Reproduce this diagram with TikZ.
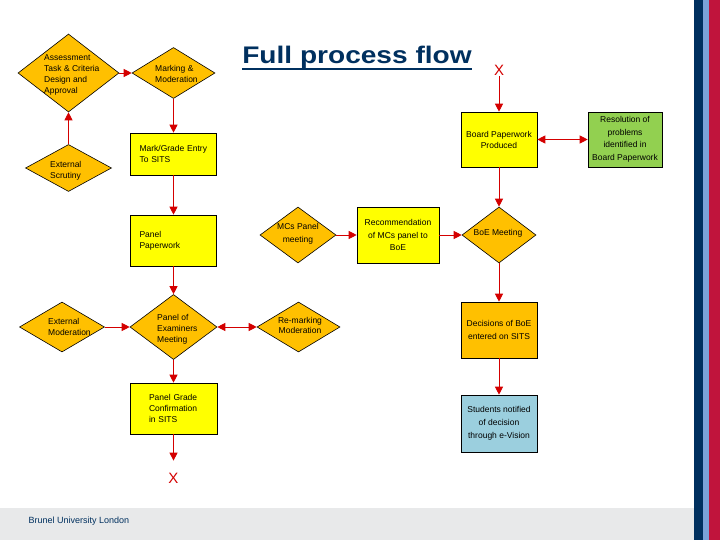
\documentclass[tikz,border=0pt]{standalone}
\usepackage{fontspec}
\setmainfont{Liberation Sans}
\usepackage{tikz}
\usetikzlibrary{shapes.geometric, arrows.meta}

\definecolor{decorange}{HTML}{FFC000}
\definecolor{boxyellow}{HTML}{FFFF00}
\definecolor{boxgreen}{HTML}{92D050}
\definecolor{boxblue}{HTML}{9BCFDE}
\definecolor{flowred}{HTML}{D40000}
\definecolor{brunelnavy}{HTML}{00305F}
\definecolor{brunelsky}{HTML}{7BA3D9}
\definecolor{brunelred}{HTML}{C0143C}
\definecolor{footgray}{HTML}{E8E9EA}

\begin{document}
\begin{tikzpicture}[x=1pt, y=-1pt,
  flow/.style={draw=flowred, line width=0.9pt, -{Triangle[length=8pt, width=8pt]}},
  twoway/.style={flow, {Triangle[length=8pt, width=8pt]}-{Triangle[length=8pt, width=8pt]}},
  decision/.style={diamond, draw=black, line width=0.6pt, fill=decorange, inner sep=0pt},
  procbox/.style={rectangle, draw=black, line width=0.6pt, fill=boxyellow, inner sep=0pt, font=\fontsize{8.5}{11}\selectfont},
  lefttext/.style={text width=#1, align=left, inner xsep=9pt},
  midtext/.style={align=center, font=\fontsize{8.5}{12.5}\selectfont},
  dtext/.style={inner sep=0pt, font=\fontsize{8.5}{11}\selectfont},
  endmark/.style={text=flowred, font=\fontsize{15}{15}\selectfont, inner sep=1pt}]
  \useasboundingbox (0,0) rectangle (720,540);
  \fill[white] (0,0) rectangle (720,540);

  % slide furniture
  \fill[footgray] (0,508) rectangle (694,540);
  \fill[brunelnavy] (694,0) rectangle (703,540);
  \fill[brunelsky] (703,0) rectangle (709,540);
  \fill[brunelred] (709,0) rectangle (720,540);
  \node[anchor=west, text=brunelnavy, font=\fontsize{9}{9}\selectfont] (brunel) at (25,521) {Brunel University London};

  \node[anchor=base, inner sep=0pt, text=brunelnavy, font=\fontsize{24}{24}\selectfont\bfseries] (title) at (357,64) {\scalebox{1.17}[1]{Full process flow}};
  \draw[brunelnavy, line width=2pt] ([yshift=-5pt]title.base west) -- ([yshift=-5pt]title.base east);

  % decisions (diamonds)
  \node[decision, minimum width=101pt, minimum height=78pt] (assess) at (68.5,73) {};
  \node[decision, minimum width=83pt, minimum height=51pt] (marking) at (173.5,73) {};
  \node[decision, minimum width=86pt, minimum height=47pt] (scrutiny) at (68.5,168) {};
  \node[decision, minimum width=76pt, minimum height=56pt] (mcs) at (298,235) {};
  \node[decision, minimum width=74pt, minimum height=56pt] (boe) at (499,235) {};
  \node[decision, minimum width=87pt, minimum height=65pt] (examiners) at (173.5,327) {};
  \node[decision, minimum width=85pt, minimum height=50pt] (extmod) at (62,327) {};
  \node[decision, minimum width=83pt, minimum height=50pt] (remark) at (298.5,327) {};

  \node[dtext, anchor=west, align=left] (assesstxt) at (44,74.5) {Assessment\\Task \& Criteria\\Design and\\Approval};
  \node[dtext, anchor=west, align=left] (marktxt) at (155,73.5) {Marking \&\\Moderation};
  \node[dtext, anchor=west, align=left] (scrutxt) at (50,170.5) {External\\Scrutiny};
  \node[dtext, align=center, font=\fontsize{8.5}{13}\selectfont] (mcstxt) at (298,233.5) {MCs Panel\\meeting};
  \node[dtext] (boetxt) at (498,233) {BoE Meeting};
  \node[dtext, anchor=west, align=left] (examtxt) at (157,329) {Panel of\\Examiners\\Meeting};
  \node[dtext, anchor=west, align=left] (extmodtxt) at (48,327) {External\\Moderation};
  \node[dtext, align=center, font=\fontsize{8.5}{10}\selectfont] (remarktxt) at (300,325) {Re-marking\\Moderation};

  % process boxes
  \node[procbox, lefttext=68pt, minimum height=42pt] (markentry) at (173.5,154) {Mark/Grade Entry\\To SITS};
  \node[procbox, lefttext=68pt, minimum height=51pt] (paperwork) at (173.5,240.5) {Panel\\Paperwork};
  \node[procbox, lefttext=49pt, inner xsep=19pt, minimum height=51pt] (gradeconf) at (173.5,408.5) {Panel Grade\\Confirmation\\in SITS};
  \node[procbox, midtext, minimum width=82pt, minimum height=56pt] (recomm) at (398,235) {Recommendation\\of MCs panel to\\BoE};
  \node[procbox, midtext, minimum width=76pt, minimum height=55pt, font=\fontsize{8.5}{11}\selectfont] (board) at (499,139.5) {Board Paperwork\\Produced};
  \node[procbox, midtext, fill=boxgreen, minimum width=74pt, minimum height=55pt] (resolve) at (625,139.5) {Resolution of\\problems\\identified in\\Board Paperwork};
  \node[procbox, midtext, fill=decorange, minimum width=76pt, minimum height=56pt] (decisions) at (499,330) {Decisions of BoE\\entered on SITS};
  \node[procbox, midtext, fill=boxblue, minimum width=76pt, minimum height=57pt, font=\fontsize{8.5}{13}\selectfont] (students) at (499,423.5) {Students notified\\of decision\\through e-Vision};

  % ends of the flow
  \node[endmark] (topend) at (499,70) {X};
  \node[endmark] (bottomend) at (173.5,478) {X};

  \path (scrutiny) edge[flow] (assess)
        (assess) edge[flow] (marking)
        (marking) edge[flow] (markentry)
        (markentry) edge[flow] (paperwork)
        (paperwork) edge[flow] (examiners)
        (extmod) edge[flow] (examiners)
        (examiners) edge[twoway] (remark)
        (examiners) edge[flow] (gradeconf)
        (gradeconf) edge[flow, shorten >=11pt] (bottomend)
        (mcs) edge[flow] (recomm)
        (recomm) edge[flow] (boe)
        (topend) edge[flow] (board)
        (board) edge[twoway] (resolve)
        (board) edge[flow] (boe)
        (boe) edge[flow] (decisions)
        (decisions) edge[flow] (students);
\end{tikzpicture}
\end{document}
